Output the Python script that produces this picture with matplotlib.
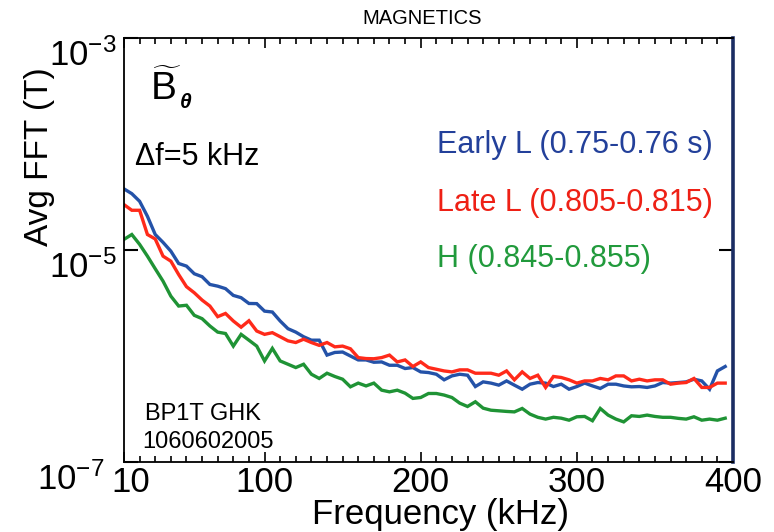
import numpy as np
import matplotlib
matplotlib.use("Agg")
import matplotlib.pyplot as plt
from matplotlib.ticker import FixedLocator, NullLocator
from matplotlib.transforms import ScaledTranslation

plt.rcParams['font.family'] = ['Liberation Sans', 'DejaVu Sans']
plt.rcParams['mathtext.fontset'] = 'custom'
plt.rcParams['mathtext.rm'] = 'Liberation Sans'
plt.rcParams['mathtext.it'] = 'Liberation Sans:italic'
plt.rcParams['mathtext.bf'] = 'Liberation Sans:bold'

freq_khz = [10, 15, 20, 25, 30, 35, 40, 45, 50, 55, 60, 65, 70, 75, 80, 85, 90, 95,
            100, 105, 110, 115, 120, 125, 130, 135, 140, 145, 150, 155, 160, 165, 170,
            175, 180, 185, 190, 195, 200, 205, 210, 215, 220, 225, 230, 235, 240, 245,
            250, 255, 260, 265, 270, 275, 280, 285, 290, 295, 300, 305, 310, 315, 320,
            325, 330, 335, 340, 345, 350, 355, 360, 365, 370, 375, 380, 385, 390, 395]

early_L = [3.77e-5, 3.40e-5, 2.88e-5, 2.08e-5, 1.40e-5, 1.18e-5, 9.75e-6, 7.46e-6, 7.05e-6,
           5.97e-6, 5.60e-6, 4.73e-6, 4.56e-6, 4.32e-6, 3.73e-6, 3.55e-6, 3.13e-6, 3.12e-6,
           2.65e-6, 2.60e-6, 2.14e-6, 1.81e-6, 1.68e-6, 1.52e-6, 1.41e-6, 1.41e-6, 1.02e-6,
           1.08e-6, 1.09e-6, 1.00e-6, 9.18e-7, 9.18e-7, 8.73e-7, 8.79e-7, 8.18e-7, 8.18e-7,
           7.62e-7, 7.78e-7, 7.08e-7, 6.98e-7, 6.73e-7, 5.96e-7, 6.49e-7, 6.73e-7, 6.59e-7,
           5.15e-7, 5.70e-7, 5.55e-7, 5.31e-7, 5.82e-7, 5.31e-7, 4.86e-7, 5.42e-7, 5.62e-7,
           5.55e-7, 5.15e-7, 5.42e-7, 4.86e-7, 5.15e-7, 5.55e-7, 5.22e-7, 4.94e-7, 5.42e-7,
           5.42e-7, 5.22e-7, 5.12e-7, 5.15e-7, 5.05e-7, 5.22e-7, 5.62e-7, 5.55e-7, 5.62e-7,
           5.70e-7, 6.04e-7, 5.82e-7, 4.86e-7, 7.23e-7, 7.96e-7]

late_L = [2.68e-5, 2.37e-5, 2.37e-5, 1.40e-5, 1.27e-5, 8.75e-6, 7.85e-6, 5.87e-6, 4.51e-6,
          3.95e-6, 3.37e-6, 2.96e-6, 2.35e-6, 2.52e-6, 2.14e-6, 1.87e-6, 2.15e-6, 1.72e-6,
          1.60e-6, 1.66e-6, 1.52e-6, 1.39e-6, 1.34e-6, 1.44e-6, 1.34e-6, 1.26e-6, 1.34e-6,
          1.22e-6, 1.24e-6, 1.17e-6, 9.66e-7, 9.46e-7, 9.42e-7, 9.66e-7, 1.02e-6, 8.79e-7,
          9.18e-7, 7.96e-7, 8.79e-7, 7.78e-7, 7.50e-7, 7.23e-7, 7.08e-7, 7.40e-7, 7.40e-7,
          6.88e-7, 6.88e-7, 6.88e-7, 6.59e-7, 7.23e-7, 5.96e-7, 7.08e-7, 6.14e-7, 6.59e-7,
          5.05e-7, 6.41e-7, 6.27e-7, 5.96e-7, 5.55e-7, 5.82e-7, 5.82e-7, 6.14e-7, 5.96e-7,
          6.49e-7, 6.49e-7, 5.82e-7, 6.04e-7, 5.82e-7, 5.96e-7, 5.96e-7, 5.42e-7, 5.55e-7,
          5.62e-7, 6.14e-7, 5.05e-7, 5.05e-7, 5.55e-7, 5.55e-7]

h_mode = [1.26e-5, 1.40e-5, 1.13e-5, 8.75e-6, 6.65e-6, 5.08e-6, 3.67e-6, 2.96e-6, 3.01e-6,
          2.42e-6, 2.25e-6, 1.92e-6, 1.68e-6, 1.63e-6, 1.24e-6, 1.60e-6, 1.41e-6, 1.24e-6,
          8.98e-7, 1.18e-6, 8.98e-7, 8.36e-7, 7.78e-7, 8.36e-7, 6.73e-7, 6.14e-7, 6.88e-7,
          6.41e-7, 6.04e-7, 5.12e-7, 5.55e-7, 5.22e-7, 5.55e-7, 4.76e-7, 4.59e-7, 4.76e-7,
          4.46e-7, 3.98e-7, 4.06e-7, 4.43e-7, 4.43e-7, 4.28e-7, 4.06e-7, 3.59e-7, 3.34e-7,
          3.70e-7, 3.22e-7, 3.08e-7, 3.04e-7, 3.00e-7, 2.97e-7, 3.20e-7, 2.83e-7, 2.64e-7,
          2.54e-7, 2.64e-7, 2.59e-7, 2.48e-7, 2.67e-7, 2.69e-7, 2.45e-7, 3.20e-7, 2.77e-7,
          2.54e-7, 2.39e-7, 2.73e-7, 2.69e-7, 2.77e-7, 2.69e-7, 2.64e-7, 2.64e-7, 2.58e-7,
          2.54e-7, 2.67e-7, 2.48e-7, 2.54e-7, 2.48e-7, 2.59e-7]

series_labels = ["Early L (0.75-0.76 s)", "Late L (0.805-0.815)", "H (0.845-0.855)"]
line_colors = ["#2452a8", "#ff2a1a", "#1f9335"]
text_colors = ["#23409a", "#ee2015", "#219a3c"]

x_ticks = [10, 100, 200, 300, 400]
x_minor = [20, 30, 40, 50, 60, 70, 80, 90, 110, 120, 130, 140, 150, 160, 170, 180, 190,
           210, 220, 230, 240, 250, 260, 270, 280, 290, 310, 320, 330, 340, 350, 360,
           370, 380, 390]
y_ticks = [1e-7, 1e-5, 1e-3]
y_ticklabels = [r'$10^{-7}$', r'$10^{-5}$', r'$10^{-3}$']

W, H = 774, 532
fig = plt.figure(figsize=(W / 100, H / 100), dpi=100)
L, R, T, B = 124, 733, 38, 462
ax = fig.add_axes([L / W, 1 - B / H, (R - L) / W, (B - T) / H])

for vals, c in zip([early_L, late_L, h_mode], line_colors):
    ax.plot(freq_khz, vals, color=c, lw=2.4, solid_joinstyle='miter')

ax.set_yscale('log')
ax.set_xlim(10, 400)
ax.set_ylim(1e-7, 1e-3)
ax.set_xticks(x_ticks)
ax.set_xticklabels([str(v) for v in x_ticks])
ax.xaxis.set_minor_locator(FixedLocator(x_minor))
ax.set_yticks(y_ticks)
ax.set_yticklabels(y_ticklabels)
ax.yaxis.set_minor_locator(NullLocator())

ax.tick_params(axis='x', which='major', direction='in', length=7, width=1.2,
               top=True, labelsize=25, pad=3)
ax.tick_params(axis='x', which='minor', direction='in', length=4, width=1.2, top=True)
ax.tick_params(axis='y', which='major', direction='in', length=10, width=1.5,
               right=True, labelsize=25, pad=5)

ylabs = ax.get_yticklabels()
for i, lab in enumerate(ylabs):
    dx = -9 if i == 0 else 0
    lab.set_transform(lab.get_transform() +
                      ScaledTranslation(dx / 72, -10 / 72, fig.dpi_scale_trans))
xlab0 = ax.get_xticklabels()[0]
xlab0.set_transform(xlab0.get_transform() + ScaledTranslation(5 / 72, 0, fig.dpi_scale_trans))

for s in ['left', 'top', 'bottom']:
    ax.spines[s].set_linewidth(1.3)
    ax.spines[s].set_color('black')
ax.spines['right'].set_linewidth(2.6)
ax.spines['right'].set_color('#1b2d63')

def fy(y):
    return 1 - y / H

def fx(x):
    return x / W

fig.text(fx(422), fy(18), "MAGNETICS", fontsize=14.5, ha='center', va='center')
fig.text(fx(440), fy(524), "Frequency (kHz)", fontsize=25, ha='center', va='baseline')
fig.text(fx(40), fy(157), "Avg FFT (T)", fontsize=24, rotation=90, ha='center', va='center')

fig.text(fx(150), fy(100), r'$\widetilde{\mathrm{B}}$', fontsize=28, ha='left', va='baseline')
fig.text(fx(180), fy(108), "θ", fontsize=15, ha='left', va='baseline',
         fontweight='bold', fontstyle='italic')

fig.text(fx(135), fy(165), "Δf=5 kHz", fontsize=22, ha='left', va='baseline')

baselines = [153, 211, 267]
for lab, c, yb in zip(series_labels, text_colors, baselines):
    fig.text(fx(437), fy(yb), lab, fontsize=22, color=c, ha='left', va='baseline')

fig.text(fx(145), fy(420), "BP1T GHK", fontsize=17, ha='left', va='baseline')
fig.text(fx(142), fy(448), "1060602005", fontsize=17, ha='left', va='baseline')

fig.savefig("out.png", dpi=100)
